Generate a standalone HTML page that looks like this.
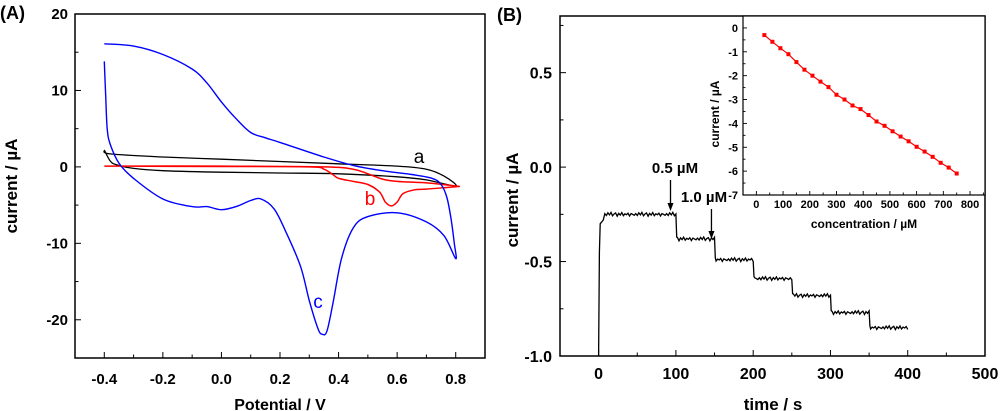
<!DOCTYPE html>
<html><head><meta charset="utf-8"><style>
html,body{margin:0;padding:0;background:#fff;}
svg{display:block;font-family:"Liberation Sans",Arial,sans-serif;}
</style></head><body>
<svg id="fig" width="1000" height="411" viewBox="0 0 1000 411" xmlns="http://www.w3.org/2000/svg"></svg>
<script>
// ---- Panel A data (cyclic voltammograms) ----
const cvA_E = [-0.4,-0.38,-0.2,0,0.2,0.4,0.6,0.7,0.76,0.8,0.7,0.6,0.4,0.2,0,-0.2,-0.3,-0.36,-0.38,-0.4];
const cvA_I = [2.2,1.7,1.3,1.0,0.7,0.4,0.1,-0.3,-1.2,-2.5,-1.7,-1.3,-0.9,-0.8,-0.7,-0.5,-0.2,0.3,0.8,2.2];
const cvB_E = [-0.4,0,0.3,0.35,0.38,0.4,0.45,0.5,0.54,0.56,0.58,0.6,0.62,0.66,0.7,0.8,0.8,0.7,0.6,0.55,0.5,0.45,0.35,0,-0.4];
const cvB_I = [0.1,0.05,0.0,-0.3,-1.0,-1.5,-1.9,-2.3,-3.3,-4.6,-5.1,-4.6,-3.5,-3.0,-2.9,-2.6,-2.5,-2.1,-1.9,-1.6,-0.9,-0.3,0.0,0.1,0.1];
const cvC_E = [-0.4,-0.395,-0.39,-0.38,-0.35,-0.3,-0.2,-0.1,-0.05,0,0.05,0.1,0.135,0.18,0.22,0.27,0.3,0.33,0.345,0.36,0.38,0.41,0.45,0.5,0.6,0.7,0.76,0.8,0.795,0.785,0.77,0.75,0.72,0.65,0.55,0.45,0.35,0.2,0.15,0.1,0.05,0,-0.05,-0.1,-0.2,-0.3,-0.4];
const cvC_I = [13.8,9,5,3,0.5,-1.5,-4.2,-5.2,-5.2,-5.6,-5.2,-4.4,-4.2,-5.5,-8.5,-13,-17.5,-21.2,-21.9,-21.5,-18,-12,-8,-6.5,-6.0,-7.2,-9,-12,-10,-7,-4,-2.3,-1.5,-1.0,-0.5,0.2,1.3,3.2,3.8,4.5,6.3,8.5,11,12.8,14.7,15.8,16.1];
const aXTicks = [-0.4,-0.2,0.0,0.2,0.4,0.6,0.8];
const aXLabels = ["-0.4","-0.2","0.0","0.2","0.4","0.6","0.8"];
const aYTicks = [20,10,0,-10,-20];
// ---- Panel B data (amperometry) ----
const stepTimes = [0,100,150,200,250,300,350,400];
const stepLevels = [-0.25,-0.38,-0.49,-0.59,-0.68,-0.77,-0.85];
const noise = [0.004,-0.006,0.008,-0.003,0.01,-0.008,0.002,0.007,-0.01,0.005,-0.004,0.009,-0.007,0.003,-0.002,0.006,-0.009,0.004,0.0,-0.005];
const bXTicks = [0,100,200,300,400,500];
const bYTicks = [0.5,0.0,-0.5,-1.0];
const bYLabels = ["0.5","0.0","-0.5","-1.0"];
// ---- Inset data (calibration) ----
const conc = [30,60,90,120,150,180,210,240,270,300,330,360,390,420,450,480,510,540,570,600,630,660,690,720,750];
const calI = [-0.3,-0.58,-0.85,-1.1,-1.43,-1.75,-2.0,-2.25,-2.48,-2.8,-3.0,-3.25,-3.4,-3.65,-3.92,-4.1,-4.33,-4.55,-4.75,-4.98,-5.18,-5.4,-5.65,-5.85,-6.1];
const inXTicks = [0,100,200,300,400,500,600,700,800];
const inYTicks = [0,-1,-2,-3,-4,-5,-6,-7];

const svg = document.getElementById('fig');
const NS = 'http://www.w3.org/2000/svg';
function mk(tag, attrs, parent){const e=document.createElementNS(NS,tag);for(const k in attrs)e.setAttribute(k,attrs[k]);(parent||svg).appendChild(e);return e;}
function lin(d0,d1,r0,r1){return v=>r0+(v-d0)*(r1-r0)/(d1-d0);}
function txt(s,x,y,size,anchor,parent){const t=mk('text',{x:x,y:y,'text-anchor':anchor||'middle','font-weight':'bold','font-size':size},parent);t.textContent=s;return t;}
function smooth(X,Y,fx,fy){
  const P=X.map((v,i)=>[fx(v),fy(Y[i])]);
  let d='M'+P[0][0].toFixed(1)+','+P[0][1].toFixed(1);
  for(let i=0;i<P.length-1;i++){
    const p0=P[Math.max(0,i-1)],p1=P[i],p2=P[i+1],p3=P[Math.min(P.length-1,i+2)];
    const c1=[p1[0]+(p2[0]-p0[0])/6,p1[1]+(p2[1]-p0[1])/6];
    const c2=[p2[0]-(p3[0]-p1[0])/6,p2[1]-(p3[1]-p1[1])/6];
    d+=`C${c1[0].toFixed(1)},${c1[1].toFixed(1)} ${c2[0].toFixed(1)},${c2[1].toFixed(1)} ${p2[0].toFixed(1)},${p2[1].toFixed(1)}`;
  }
  return d;
}
function pathFrom(X,Y,fx,fy){return X.map((v,i)=>(i?'L':'M')+fx(v).toFixed(1)+','+fy(Y[i]).toFixed(1)).join('');}

// ===== Panel A =====
const ax = lin(-0.5,0.9,75,485), ay = lin(-25,20,358,14);
const gA = mk('g',{});


mk('rect',{x:75,y:14,width:410,height:344,fill:'none',stroke:'#000','stroke-width':1.5},gA);
for(let v=-0.5;v<=0.9001;v+=0.1){const x=ax(v);const major=aXTicks.some(t=>Math.abs(t-v)<1e-6);mk('line',{x1:x,x2:x,y1:358,y2:358-(major?6:3.5),stroke:'#000','stroke-width':1},gA);}
aXTicks.forEach((v,i)=>{txt(aXLabels[i],ax(v),384,15,'middle',gA);});
for(let v=-25;v<=20;v+=5){const y=ay(v);const major=v%10===0;mk('line',{x1:75,x2:75+(major?6:3.5),y1:y,y2:y,stroke:'#000','stroke-width':1},gA);}
aYTicks.forEach(v=>{txt(String(v),68,ay(v)+5,15,'end',gA);});
const pa=mk('path',{d:smooth(cvA_E,cvA_I,ax,ay),fill:'none',stroke:'#000','stroke-width':1.3},gA);

const pb=mk('path',{d:smooth(cvB_E,cvB_I,ax,ay),fill:'none',stroke:'#f00','stroke-width':1.5},gA);

const pc=mk('path',{d:smooth(cvC_E,cvC_I,ax,ay),fill:'none',stroke:'#00f','stroke-width':1.4},gA);

let t;
t=txt('a',419,163,19,'middle',gA);t.setAttribute('font-weight','normal');
t=txt('b',370,205,19,'middle',gA);t.setAttribute('font-weight','normal');t.setAttribute('fill','#f00');
t=txt('c',318,308,19,'middle',gA);t.setAttribute('font-weight','normal');t.setAttribute('fill','#00f');
t=txt('Potential / V',280,410,16,'middle',gA);
t=txt('current / µA',0,0,17,'middle',gA);t.setAttribute('transform','translate(17,186) rotate(-90)');
t=txt('(A)',0,19,18,'start',gA);

// ===== Panel B =====
const bx = lin(-50,500,560,985), by = lin(-1.0,0.8,356,16);
const gB = mk('g',{});


mk('rect',{x:560,y:16,width:425,height:340,fill:'none',stroke:'#000','stroke-width':1.5},gB);
for(let v=-50;v<=500;v+=50){const x=bx(v);const major=v%100===0;mk('line',{x1:x,x2:x,y1:356,y2:356-(major?6:3.5),stroke:'#000','stroke-width':1},gB);}
bXTicks.forEach(v=>{txt(String(v),bx(v),379,16,'middle',gB);});
for(let v=-1.0;v<=0.8001;v+=0.25){const y=by(v);const major=Math.abs(Math.round(v*2)-v*2)<1e-6;mk('line',{x1:560,x2:560+(major?6:3.5),y1:y,y2:y,stroke:'#000','stroke-width':1},gB);}
bYTicks.forEach((v,i)=>{txt(bYLabels[i],552,by(v)+6,16,'end',gB);});
let d='M'+bx(0).toFixed(1)+','+by(-1.0).toFixed(1)+' L'+bx(1).toFixed(1)+','+by(-0.45).toFixed(1)+' L'+bx(2).toFixed(1)+','+by(-0.3).toFixed(1)+' L'+bx(6).toFixed(1)+','+by(-0.28).toFixed(1);
let k=0;
for(let s=0;s<stepLevels.length;s++){
  const t0 = s===0?8:stepTimes[s]+2, t1=stepTimes[s+1];
  if(s>0) d+=' L'+bx(stepTimes[s]+1).toFixed(1)+','+by(stepLevels[s]+0.01).toFixed(1);
  for(let tt=t0;tt<=t1;tt+=2){d+=' L'+bx(tt).toFixed(1)+','+by(stepLevels[s]+noise[k%noise.length]).toFixed(1);k++;}
}
const pt=mk('path',{d:d,fill:'none',stroke:'#000','stroke-width':1.3},gB);

function arrow(xv,y1,y2,name){const x=bx(xv);const g=mk('g',{},gB);
 mk('line',{x1:x,x2:x,y1:y1,y2:y2-4,stroke:'#000','stroke-width':1.3},g);mk('path',{d:`M${x-3},${y2-8}L${x},${y2}L${x+3},${y2-8}Z`,fill:'#000'},g);}
arrow(93,180,211,'arrow-0-5um');
arrow(146,209,239,'arrow-1-0um');
t=txt('0.5 µM',675,173,15,'middle',gB);
t=txt('1.0 µM',704,202,15,'middle',gB);
t=txt('time / s',773,410,17,'middle',gB);
t=txt('current /  µA',0,0,17,'middle',gB);t.setAttribute('transform','translate(518,200) rotate(-90)');
t=txt('(B)',497,21,18,'start',gB);

// ===== Inset =====
const ix = lin(-50,856,743,985), iy = lin(-7,0.5,195,16);
const gI = mk('g',{});


mk('rect',{x:743,y:16,width:242,height:179,fill:'#fff',stroke:'#000','stroke-width':1.2},gI);
for(let v=-50;v<=850;v+=50){const x=ix(v);const major=v%100===0;mk('line',{x1:x,x2:x,y1:195,y2:195-(major?4:2.5),stroke:'#000','stroke-width':0.9},gI);}
inXTicks.forEach(v=>{txt(String(v),ix(v),208,11,'middle',gI);});
for(let v=-7;v<=0.5001;v+=0.5){const y=iy(v);const major=Math.abs(Math.round(v)-v)<1e-6;mk('line',{x1:743,x2:743+(major?4:2.5),y1:y,y2:y,stroke:'#000','stroke-width':0.9},gI);}
inYTicks.forEach(v=>{txt(String(v),738,iy(v)+4,11,'end',gI);});
const pl=mk('path',{d:pathFrom(conc,calI,ix,iy),fill:'none',stroke:'#f00','stroke-width':1.2},gI);

conc.forEach((c,i)=>{const r=mk('rect',{x:ix(c)-2,y:iy(calI[i])-2,width:4,height:4,fill:'#f00'},gI);
 
 });
t=txt('concentration / µM',864,228,12,'middle',gI);
t=txt('current / µA',0,0,12,'middle',gI);t.setAttribute('transform','translate(719,114) rotate(-90)');
</script>
</body></html>
